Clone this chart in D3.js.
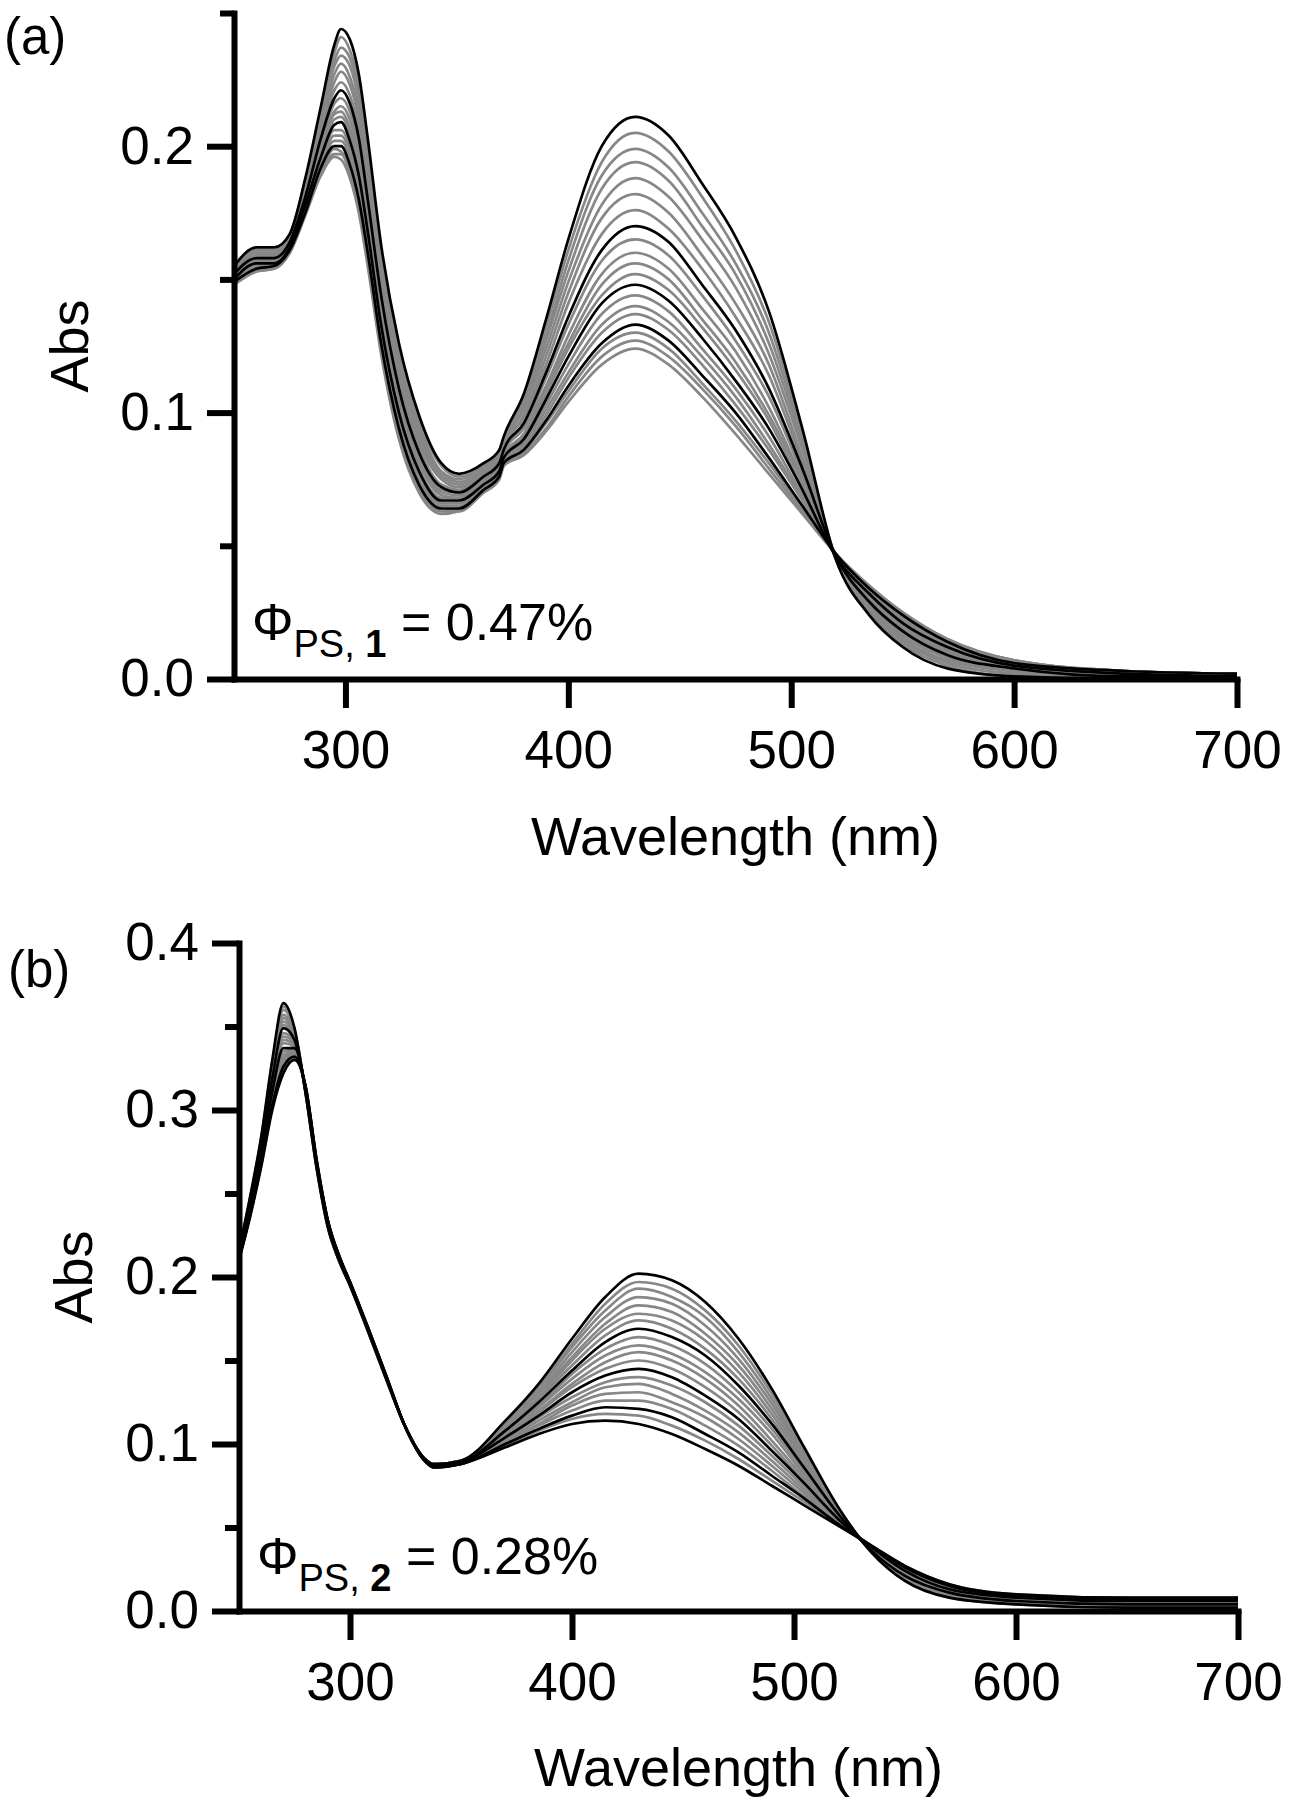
<!DOCTYPE html>
<html>
<head>
<meta charset="utf-8">
<script src="https://cdn.jsdelivr.net/npm/d3@7"></script>
<style>
  html, body { margin: 0; padding: 0; background: #fff; }
  svg { display: block; }
  text { font-family: "Liberation Sans", Arial, Helvetica, sans-serif; fill: #000; }
</style>
</head>
<body>
<svg id="chart" width="1292" height="1800"></svg>
<script>
// ---------------- DATA ----------------
// Panel (a): wavelength grid (nm); each row = absorbance of the 20 spectra at that wavelength
const wlA = [250,260,268,275,282,289,295,298,302,306,310,316,324,333,343,351,362,369,371,380,390,400,415,430,445,460,475,490,505,520,535,550,570,600,650,700];
const absA = [
  [.155,.155,.154,.154,.153,.153,.152,.152,.151,.151,.151,.150,.150,.150,.149,.149,.149,.148,.148,.148],
  [.162,.161,.161,.160,.160,.159,.158,.158,.157,.157,.156,.156,.156,.155,.155,.154,.154,.154,.153,.153],
  [.162,.161,.161,.160,.160,.159,.159,.158,.158,.157,.157,.157,.156,.156,.155,.155,.155,.155,.154,.154],
  [.167,.167,.166,.166,.165,.165,.164,.164,.163,.163,.163,.162,.162,.162,.161,.161,.161,.160,.160,.160],
  [.188,.187,.186,.185,.184,.183,.182,.181,.181,.180,.179,.179,.178,.177,.177,.176,.175,.175,.175,.174],
  [.215,.213,.211,.210,.208,.206,.205,.203,.201,.200,.199,.197,.196,.195,.194,.193,.192,.191,.190,.189],
  [.238,.235,.232,.230,.227,.224,.221,.218,.216,.213,.212,.210,.208,.206,.204,.202,.200,.199,.197,.196],
  [.244,.241,.237,.234,.231,.228,.224,.221,.218,.215,.213,.211,.209,.206,.204,.202,.200,.198,.197,.195],
  [.240,.236,.233,.230,.226,.223,.219,.216,.213,.210,.207,.205,.202,.200,.198,.196,.193,.192,.190,.188],
  [.227,.223,.220,.217,.213,.210,.206,.203,.200,.197,.194,.192,.189,.187,.185,.183,.180,.179,.177,.175],
  [.203,.200,.196,.194,.190,.187,.184,.180,.178,.175,.173,.170,.168,.166,.164,.162,.160,.158,.157,.155],
  [.163,.160,.157,.155,.152,.149,.146,.144,.141,.139,.137,.135,.133,.131,.130,.128,.126,.125,.123,.122],
  [.126,.124,.121,.119,.117,.114,.112,.109,.107,.105,.103,.102,.100,.098,.097,.095,.094,.093,.091,.090],
  [.099,.097,.095,.093,.091,.089,.087,.085,.084,.082,.081,.079,.078,.077,.075,.074,.073,.072,.071,.070],
  [.081,.080,.078,.077,.076,.075,.073,.072,.071,.070,.069,.068,.067,.066,.066,.065,.064,.063,.063,.062],
  [.077,.076,.075,.074,.073,.072,.071,.070,.070,.069,.068,.068,.067,.066,.066,.065,.064,.064,.063,.063],
  [.081,.080,.080,.079,.078,.077,.077,.076,.075,.075,.074,.074,.073,.073,.072,.072,.071,.071,.070,.070],
  [.086,.085,.085,.084,.083,.082,.082,.081,.080,.080,.079,.079,.078,.078,.077,.077,.076,.076,.075,.075],
  [.091,.090,.090,.089,.088,.087,.087,.086,.085,.085,.084,.084,.083,.083,.082,.082,.081,.081,.080,.080],
  [.107,.105,.104,.102,.101,.099,.098,.096,.095,.094,.092,.091,.090,.089,.088,.087,.086,.086,.085,.084],
  [.135,.132,.129,.127,.124,.121,.118,.115,.113,.110,.109,.107,.105,.103,.101,.099,.097,.096,.094,.093],
  [.165,.161,.157,.153,.149,.145,.141,.136,.133,.129,.126,.124,.121,.118,.115,.113,.110,.108,.106,.104],
  [.200,.194,.189,.184,.178,.173,.167,.161,.157,.152,.148,.144,.141,.137,.133,.130,.126,.124,.121,.118],
  [.211,.205,.199,.194,.188,.182,.176,.170,.165,.160,.156,.152,.148,.144,.140,.137,.133,.130,.127,.124],
  [.204,.198,.192,.187,.181,.175,.169,.164,.159,.154,.150,.146,.142,.138,.134,.131,.127,.124,.121,.118],
  [.186,.181,.175,.170,.165,.159,.154,.148,.144,.139,.135,.132,.128,.124,.121,.118,.114,.111,.109,.106],
  [.166,.161,.156,.152,.147,.141,.136,.131,.127,.123,.119,.116,.112,.109,.106,.103,.100,.097,.095,.092],
  [.138,.134,.130,.126,.122,.118,.114,.109,.106,.102,.099,.097,.094,.091,.088,.086,.083,.081,.079,.077],
  [.094,.092,.090,.088,.086,.083,.081,.079,.077,.075,.074,.072,.071,.069,.068,.067,.065,.064,.063,.062],
  [.045,.045,.045,.045,.046,.046,.046,.046,.046,.046,.046,.046,.046,.047,.047,.047,.047,.047,.047,.047],
  [.024,.025,.026,.026,.027,.028,.028,.029,.030,.030,.031,.031,.032,.032,.033,.033,.034,.034,.035,.035],
  [.012,.013,.014,.015,.015,.016,.017,.018,.019,.020,.020,.021,.021,.022,.023,.023,.024,.024,.025,.025],
  [.004,.005,.006,.006,.007,.008,.008,.009,.010,.010,.011,.011,.012,.012,.013,.013,.014,.014,.015,.015],
  [.001,.001,.002,.002,.003,.003,.003,.004,.004,.005,.005,.005,.005,.006,.006,.006,.006,.007,.007,.007],
  [.000,.000,.000,.001,.001,.001,.001,.001,.002,.002,.002,.002,.002,.002,.002,.003,.003,.003,.003,.003],
  [.000,.000,.000,.000,.001,.001,.001,.001,.001,.001,.001,.001,.001,.002,.002,.002,.002,.002,.002,.002]
];
const blackA = [0, 7, 12, 16];

// Panel (b)
const wlB = [250,255,260,265,270,275,280,285,290,295,300,308,316,325,333,338,350,370,385,400,415,430,445,460,475,490,505,520,535,550,570,600,650,700];
const absB = [
  [.216,.216,.215,.215,.215,.214,.214,.214,.213,.213,.213,.212,.212,.212,.212,.211,.211,.211,.210,.210],
  [.248,.247,.247,.246,.246,.245,.244,.244,.243,.242,.242,.241,.240,.240,.239,.239,.238,.237,.237,.236],
  [.284,.283,.282,.281,.280,.279,.278,.277,.276,.276,.275,.274,.273,.272,.271,.270,.269,.268,.267,.266],
  [.330,.328,.327,.325,.324,.322,.321,.319,.317,.316,.314,.313,.311,.310,.308,.306,.305,.303,.302,.300],
  [.364,.362,.360,.357,.355,.353,.351,.349,.346,.344,.342,.340,.337,.335,.333,.331,.329,.326,.324,.322],
  [.349,.348,.347,.346,.345,.344,.343,.342,.341,.340,.339,.338,.337,.336,.335,.334,.333,.332,.331,.330],
  [.310,.310,.310,.311,.311,.311,.311,.311,.312,.312,.312,.312,.313,.313,.313,.313,.313,.314,.314,.314],
  [.265,.265,.266,.266,.266,.266,.267,.267,.267,.267,.268,.268,.268,.268,.269,.269,.269,.269,.270,.270],
  [.230,.230,.230,.231,.231,.231,.231,.231,.232,.232,.232,.232,.233,.233,.233,.233,.233,.234,.234,.234],
  [.210,.210,.210,.210,.211,.211,.211,.211,.211,.211,.212,.212,.212,.212,.212,.212,.213,.213,.213,.213],
  [.195,.195,.195,.195,.195,.196,.196,.196,.196,.196,.196,.196,.196,.196,.196,.197,.197,.197,.197,.197],
  [.168,.168,.168,.168,.168,.169,.169,.169,.169,.169,.169,.169,.169,.169,.169,.170,.170,.170,.170,.170],
  [.140,.140,.140,.140,.140,.141,.141,.141,.141,.141,.141,.141,.141,.141,.141,.142,.142,.142,.142,.142],
  [.110,.110,.110,.110,.110,.110,.110,.110,.110,.110,.110,.110,.110,.110,.110,.110,.110,.110,.110,.110],
  [.092,.092,.092,.092,.092,.092,.092,.092,.092,.092,.091,.091,.091,.091,.091,.091,.091,.091,.091,.091],
  [.088,.088,.088,.088,.088,.088,.088,.087,.087,.087,.087,.087,.087,.086,.086,.086,.086,.086,.086,.086],
  [.090,.090,.090,.090,.090,.090,.090,.089,.089,.089,.089,.089,.089,.088,.088,.088,.088,.088,.088,.088],
  [.114,.113,.112,.111,.111,.110,.109,.108,.107,.106,.106,.105,.104,.103,.102,.101,.101,.100,.099,.098],
  [.136,.134,.133,.131,.130,.128,.127,.125,.123,.122,.120,.119,.117,.116,.114,.112,.111,.109,.108,.106],
  [.163,.160,.158,.155,.152,.150,.147,.144,.142,.139,.136,.134,.131,.128,.125,.123,.120,.117,.115,.112],
  [.188,.184,.180,.176,.172,.169,.165,.161,.157,.153,.149,.145,.141,.137,.134,.130,.126,.122,.118,.114],
  [.202,.197,.193,.188,.183,.178,.174,.169,.164,.159,.155,.150,.145,.140,.136,.131,.126,.121,.117,.112],
  [.198,.193,.188,.184,.179,.174,.169,.164,.159,.154,.150,.145,.140,.135,.130,.125,.121,.116,.111,.106],
  [.185,.180,.176,.171,.166,.162,.157,.153,.148,.143,.139,.134,.129,.125,.120,.116,.111,.106,.102,.097],
  [.163,.159,.155,.151,.147,.143,.139,.135,.131,.127,.123,.119,.115,.111,.107,.103,.099,.095,.091,.087],
  [.133,.130,.127,.124,.121,.118,.115,.112,.109,.106,.102,.099,.096,.093,.090,.087,.084,.081,.078,.075],
  [.097,.095,.093,.092,.090,.088,.086,.085,.083,.081,.079,.077,.076,.074,.072,.070,.068,.067,.065,.063],
  [.062,.061,.061,.060,.060,.059,.059,.058,.057,.057,.056,.056,.055,.054,.054,.053,.053,.052,.052,.051],
  [.035,.035,.035,.036,.036,.036,.036,.036,.037,.037,.037,.037,.038,.038,.038,.038,.038,.039,.039,.039],
  [.018,.018,.019,.019,.020,.020,.021,.021,.022,.022,.023,.023,.024,.024,.025,.025,.026,.026,.027,.027],
  [.008,.008,.009,.009,.010,.010,.011,.011,.011,.012,.012,.013,.013,.013,.014,.014,.015,.015,.016,.016],
  [.004,.004,.005,.005,.005,.006,.006,.006,.007,.007,.007,.007,.008,.008,.008,.009,.009,.009,.010,.010],
  [.002,.002,.003,.003,.003,.004,.004,.004,.005,.005,.005,.005,.006,.006,.006,.007,.007,.007,.008,.008],
  [.002,.002,.003,.003,.003,.004,.004,.004,.005,.005,.005,.005,.006,.006,.006,.007,.007,.007,.008,.008]
];
const blackB = [0, 7, 12, 17, 19];

const xTicks = [300, 400, 500, 600, 700];
const yMajorA = [0, 0.1, 0.2];
const yMinorA = [0.05, 0.15, 0.25];
const yMajorB = [0, 0.1, 0.2, 0.3, 0.4];
const yMinorB = [0.05, 0.15, 0.25, 0.35];

const panelLabels = ["(a)", "(b)"];
const annotations = [{sub: "PS, ", num: "1", val: " = 0.47%"}, {sub: "PS, ", num: "2", val: " = 0.28%"}];
const xTitle = "Wavelength (nm)";
const yTitle = "Abs";

// ---------------- DRAW ----------------
const svg = d3.select("#chart");
const FS = 53;
const AXW = 6;

function drawPanel(cfg) {
  const {wl, abs, black, x0, x1, yTop, yBot, yMax, major, minor, label, labelPos, ann, annPos, titleY, absX} = cfg;
  const x = d3.scaleLinear().domain([250, 700]).range([x0, x1]);
  const y = d3.scaleLinear().domain([0, yMax]).range([yBot, yTop]);
  const g = svg.append("g");

  const n = abs[0].length;
  const spectra = d3.range(n).map(j => wl.map((w, i) => [w, abs[i][j]]));
  const line = d3.line().x(d => x(d[0])).y(d => y(d[1])).curve(d3.curveMonotoneX);

  const gl = g.append("g").attr("fill", "none").attr("stroke-linejoin", "round");
  spectra.forEach((s, j) => {
    if (!black.includes(j))
      gl.append("path").attr("d", line(s)).attr("stroke", "#878787").attr("stroke-width", 2.7);
  });
  spectra.forEach((s, j) => {
    if (black.includes(j))
      gl.append("path").attr("d", line(s)).attr("stroke", "#000").attr("stroke-width", 2.7);
  });

  // y axis minor ticks
  const yMinAx = g.append("g").attr("transform", `translate(${x0},0)`)
    .call(d3.axisLeft(y).tickValues(minor).tickSize(14).tickSizeOuter(0).tickFormat(""));
  yMinAx.select(".domain").remove();
  // y axis major
  const yAx = g.append("g").attr("transform", `translate(${x0},0)`)
    .call(d3.axisLeft(y).tickValues(major).tickSize(27).tickSizeOuter(0).tickPadding(13).tickFormat(d3.format(".1f")));
  // x axis
  const xAx = g.append("g").attr("transform", `translate(0,${yBot})`)
    .call(d3.axisBottom(x).tickValues(xTicks).tickSize(29).tickSizeOuter(0).tickPadding(22).tickFormat(d3.format("d")));

  [yMinAx, yAx, xAx].forEach(a => {
    a.selectAll("line").attr("stroke", "#000").attr("stroke-width", AXW);
    a.selectAll(".domain").attr("stroke", "#000").attr("stroke-width", AXW).attr("stroke-linecap", "square");
    a.selectAll("text").attr("font-size", FS).attr("font-family", '"Liberation Sans", Arial, sans-serif').attr("fill", "#000");
  });

  // axis titles
  g.append("text").attr("x", (x0 + x1) / 2).attr("y", titleY).attr("text-anchor", "middle")
    .attr("font-size", FS + 1).text(xTitle);
  g.append("text").attr("transform", `translate(${absX},${(yTop + yBot) / 2}) rotate(-90)`)
    .attr("text-anchor", "middle").attr("font-size", FS + 1).text(yTitle);

  // panel label
  g.append("text").attr("x", labelPos[0]).attr("y", labelPos[1]).attr("font-size", 51).text(label);

  // annotation
  const t = g.append("text").attr("x", annPos[0]).attr("y", annPos[1]).attr("font-size", 52);
  t.append("tspan").text("\u03A6");
  t.append("tspan").attr("font-size", 38).attr("dy", 17).text(ann.sub);
  t.append("tspan").attr("font-size", 38).attr("font-weight", "bold").text(ann.num);
  t.append("tspan").attr("dy", -17).text(ann.val);
}

drawPanel({wl: wlA, abs: absA, black: blackA, x0: 234, x1: 1237, yTop: 13, yBot: 679, yMax: 0.25,
  major: yMajorA, minor: yMinorA, label: panelLabels[0], labelPos: [4, 54],
  ann: annotations[0], annPos: [252, 640], titleY: 855, absX: 88});

drawPanel({wl: wlB, abs: absB, black: blackB, x0: 239, x1: 1238, yTop: 943, yBot: 1611, yMax: 0.4,
  major: yMajorB, minor: yMinorB, label: panelLabels[1], labelPos: [8, 987],
  ann: annotations[1], annPos: [257, 1574], titleY: 1786, absX: 92});
</script>
</body>
</html>
